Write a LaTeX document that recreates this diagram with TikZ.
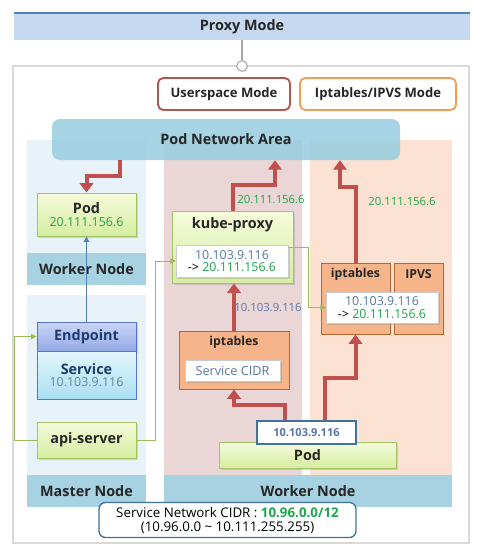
\documentclass[tikz,border=0pt]{standalone}
\usepackage{fontspec}
\setmainfont{Open Sans}
\usetikzlibrary{arrows.meta, shadows}

\definecolor{barblue}{HTML}{A6D2E2}
\definecolor{colblue}{HTML}{E8F3F9}
\definecolor{colpink}{HTML}{EAD6D7}
\definecolor{colpeach}{HTML}{FBE2D3}
\definecolor{netblue}{HTML}{96CDE0}
\definecolor{podtop}{HTML}{F5FBDC}
\definecolor{podbot}{HTML}{D6EDA0}
\definecolor{podline}{HTML}{A3C467}
\definecolor{tablefill}{HTML}{F5B489}
\definecolor{tableline}{HTML}{B8652F}
\definecolor{flowred}{HTML}{C0504D}
\definecolor{linkgreen}{HTML}{9BBB59}
\definecolor{linkblue}{HTML}{4F81BD}
\definecolor{ipblue}{HTML}{5876A8}
\definecolor{ipgreen}{HTML}{1FA54C}
\definecolor{ipgray}{HTML}{6B7F99}
\definecolor{navy}{HTML}{1F3A6E}
\definecolor{headfill}{HTML}{C6D9F0}
\definecolor{headline}{HTML}{4F81BD}
\definecolor{framegray}{HTML}{D9D9D9}
\definecolor{usrred}{HTML}{B85450}
\definecolor{iptorange}{HTML}{F59D56}
\definecolor{noteline}{HTML}{41719C}
\definecolor{eptop}{HTML}{C9D5F5}
\definecolor{epbot}{HTML}{94ABE6}
\definecolor{svtop}{HTML}{E3F6FC}
\definecolor{svbot}{HTML}{A9DFF3}
\definecolor{epline}{HTML}{5675C8}

\begin{document}
\begin{tikzpicture}[
    x=0.75pt, y=-0.75pt,
    font=\fontsize{8.5}{10.5}\selectfont,
    title/.style={font=\bfseries\fontsize{10.8}{12}\selectfont, text=black!85},
    small title/.style={font=\bfseries\fontsize{9.2}{11}\selectfont, text=black!85},
    area/.style={rectangle, draw=none, fill=#1, inner sep=0pt},
    nodebar/.style={area=barblue, minimum height=24pt, title},
    mode/.style={
        rectangle, rounded corners=4pt, draw=#1, line width=1.4pt,
        fill=white, minimum height=24pt, minimum width=99pt,
        font=\bfseries\fontsize{9.8}{11}\selectfont, text=black!85
    },
    podbox/.style={
        rectangle, draw=podline, line width=0.7pt,
        top color=podtop, bottom color=podbot, inner sep=0pt, align=center,
        drop shadow={shadow xshift=1.2pt, shadow yshift=-1.2pt, opacity=0.3}
    },
    tablebox/.style={rectangle, draw=tableline, line width=0.7pt, fill=tablefill, inner sep=0pt},
    mapbox/.style={
        rectangle, draw=black!20, line width=0.4pt, fill=white,
        inner sep=0pt, align=center, font=\fontsize{9.3}{10.5}\selectfont,
        drop shadow={shadow xshift=1.2pt, shadow yshift=-1.2pt, opacity=0.3}
    },
    data/.style={font=\fontsize{8.5}{10.5}\selectfont, inner sep=1pt},
    flow/.style={draw=flowred, line width=3pt, -{Triangle[length=7pt, width=10pt]}},
    link/.style={draw=linkgreen, line width=0.7pt, -{Triangle[length=4pt, width=4pt]}}
]
\useasboundingbox (0,0) rectangle (479,553);

% ── Header ──
\node[area=headfill, minimum width=342pt, minimum height=20.25pt, title] (proxy) at (242,26.5) {Proxy Mode};
\draw[headline, line width=1.5pt] (proxy.north west) -- (proxy.north east);

% ── Outer frame and hub ──
\node[rectangle, draw=framegray, line width=1.5pt, minimum width=342pt, minimum height=357.75pt] (frame) at (241,304.5) {};
\node[circle, draw=black!35, fill=white, line width=0.8pt, minimum size=8pt, inner sep=0pt] (hub) at (242,66) {};
\draw[black!35, line width=0.8pt] (proxy.south -| hub) -- (hub.north);

% ── Mode tags ──
\node[mode=usrred] (usrmode) at (224,94) {Userspace Mode};
\node[mode=iptorange, minimum width=117pt] (iptmode) at (378,94) {Iptables/IPVS Mode};

% ── Column backgrounds ──
\node[area=colblue, minimum width=89.25pt, minimum height=108.75pt] (wcol) at (86.5,212.5) {};
\node[area=colblue, minimum width=89.25pt, minimum height=159pt] (mcol) at (86.5,401) {};
\node[area=colpink, minimum width=103.5pt, minimum height=251.25pt] (ucol) at (233,307.5) {};
\node[area=colpeach, minimum width=106.5pt, minimum height=251.25pt] (icol) at (381,307.5) {};

\node[nodebar, minimum width=89.25pt] (wbar) at (86.5,269) {Worker Node};
\node[nodebar, minimum width=89.25pt] (mbar) at (86.5,491) {Master Node};
\node[nodebar, minimum width=216pt] (pbar) at (308,491) {Worker Node};

% ── Pod network ──
\node[rectangle, rounded corners=6pt, fill=netblue, fill opacity=0.85, text opacity=1,
      minimum width=261pt, minimum height=30.75pt, title] (podnet) at (226,139.5) {Pod Network Area};

% ── Left worker / master ──
\node[podbox, minimum width=74.25pt, minimum height=32.25pt, font=\fontsize{9.3}{10.5}\selectfont] (pod1) at (86.5,214.5)
    {{\bfseries\fontsize{10.8}{12}\selectfont\color{black!85}Pod}\\[-1pt]\textcolor{ipgreen}{20.111.156.6}};
\node[rectangle, draw=epline, line width=0.7pt, top color=eptop, bottom color=epbot,
      minimum width=74.25pt, minimum height=21.75pt, title, text=navy,
      drop shadow={shadow xshift=1.2pt, shadow yshift=-1.2pt, opacity=0.3}] (endpoint) at (86.5,336.5) {Endpoint};
\node[rectangle, draw=epline, line width=0.7pt, top color=svtop, bottom color=svbot,
      minimum width=74.25pt, minimum height=36pt, align=center, font=\fontsize{9.3}{10.5}\selectfont] (service) at (86.5,375)
    {{\bfseries\fontsize{10.8}{12}\selectfont\color{navy}Service}\\[-1pt]\textcolor{ipgray}{10.103.9.116}};
\node[podbox, minimum width=74.25pt, minimum height=27pt, title] (apiserver) at (86.5,440) {api-server};

% ── Userspace worker ──
\node[podbox, minimum width=90.75pt, minimum height=54pt] (kubeproxy) at (232.5,247) {};
\node[title] (kptitle) at (232.5,225) {kube-proxy};
\node[mapbox, minimum width=84pt, minimum height=24pt] (kpmap) at (232,261)
    {\textcolor{ipblue}{10.103.9.116}\\[-1pt]-> \textcolor{ipgreen}{20.111.156.6}};
\node[tablebox, minimum width=82.5pt, minimum height=43.5pt] (ipt1) at (234,360) {};
\node[small title] (ipt1title) at (234,342) {iptables};
\node[mapbox, minimum width=71.25pt, minimum height=15.75pt, text=ipblue, font=\fontsize{9.5}{11}\selectfont] (cidr) at (232.5,370.5) {Service CIDR};

% ── Iptables / IPVS worker ──
\node[tablebox, minimum width=51.75pt, minimum height=53.25pt] (ipt2) at (355.5,298.5) {};
\node[tablebox, minimum width=36.75pt, minimum height=53.25pt] (ipvs) at (418.5,298.5) {};
\node[small title] (ipt2title) at (355.5,274) {iptables};
\node[small title] (ipvstitle) at (418.5,274) {IPVS};
\node[mapbox, minimum width=84pt, minimum height=23.25pt] (ipmap) at (382,307.5)
    {\textcolor{ipblue}{10.103.9.116}\\[-1pt]-> \textcolor{ipgreen}{20.111.156.6}};

% ── Client pod ──
\node[podbox, minimum width=132.75pt, minimum height=19.5pt, title] (pod2) at (307.5,455) {Pod};
\node[rectangle, draw=noteline, line width=1pt, fill=white, minimum width=74.25pt, minimum height=17.25pt,
      font=\bfseries\fontsize{8.3}{10}\selectfont, text=ipblue] (podip) at (306.5,432.5) {10.103.9.116};

% ── Service network note ──
\node[rectangle, rounded corners=5pt, draw=noteline, line width=1pt, fill=white,
      minimum width=192.75pt, minimum height=25.5pt, align=center, font=\fontsize{10}{11.5}\selectfont] (cidrnote) at (227.5,520)
    {Service Network CIDR : \textcolor{ipgreen}{\bfseries 10.96.0.0/12}\\[-1pt](10.96.0.0 \textasciitilde{} 10.111.255.255)};

% ── Traffic (red) ──
\coordinate (r1) at (120,176);
\draw[flow] (podnet.south -| r1) -- (r1) -| (pod1.north);

\coordinate (r2) at (275,185);
\draw[flow] (kubeproxy.north) |- (r2) -- (r2 |- podnet.south);
\node[data, text=ipgreen] (kpdst) at (271,199) {20.111.156.6};

\draw[flow] (ipt1.north) -- (ipt1.north |- kubeproxy.south);
\node[data, text=ipblue] (kpsrc) at (268,307) {10.103.9.116};

\coordinate (r4) at (285,405);
\draw[flow] (r4 |- podip.north) -- (r4) -| (ipt1.south);

\coordinate (r5) at (325,378);
\draw[flow] (r5 |- podip.north) -- (r5) -| (ipt2.south);

\coordinate (r6) at (340,187);
\draw[flow] (ipt2.north) |- (r6) -- (r6 |- podnet.south);
\node[data, text=ipgreen] (ipdst) at (402,201) {20.111.156.6};

% ── Control (green / blue) ──
\draw[linkblue, line width=0.7pt, -{Triangle[length=4pt, width=4pt]}] (endpoint.north) -- (pod1.south);

\coordinate (g1) at (14,336.5);
\draw[link] (apiserver.west) -| (g1) -- (endpoint.west);

\coordinate (g2) at (155,261);
\draw[link] (apiserver.east) -| (g2) -- (kpmap.west);

\coordinate (g3) at (308,247);
\draw[link] (g3 -| kpmap.east) -- (g3) |- (ipmap.west);

\end{tikzpicture}
\end{document}
